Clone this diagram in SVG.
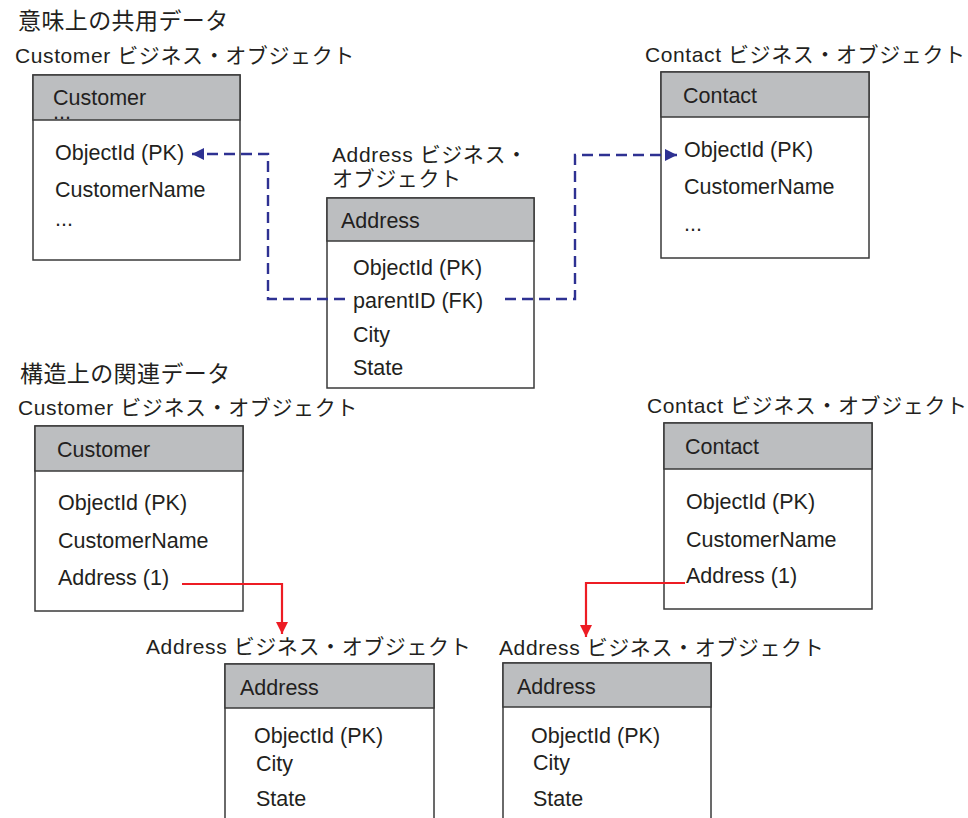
<svg xmlns="http://www.w3.org/2000/svg" width="968" height="818" viewBox="0 0 968 818">
<style>
text{font-family:"Liberation Sans","Noto Sans CJK JP",Arial,sans-serif;fill:#231f20}
.t{font-size:21.5px}
.h{font-size:23px;letter-spacing:0.4px}
.lb{font-size:21px;letter-spacing:0.6px}
.box{fill:#fff;stroke:#3a3a3a;stroke-width:1.5}
.hd{fill:#bcbec0;stroke:#3a3a3a;stroke-width:1.5}
.blue{fill:none;stroke:#2e3192;stroke-width:2.4;stroke-dasharray:11 6}
.red{fill:none;stroke:#ed1c24;stroke-width:2.2}
</style>
<defs>
<marker id="ab" viewBox="0 0 10 10" refX="10" refY="5" markerWidth="14" markerHeight="12" markerUnits="userSpaceOnUse" orient="auto"><path d="M0 0L10 5L0 10z" fill="#2e3192"/></marker>
<marker id="ar" viewBox="0 0 10 10" refX="10" refY="5" markerWidth="14" markerHeight="12" markerUnits="userSpaceOnUse" orient="auto"><path d="M0 0L10 5L0 10z" fill="#ed1c24"/></marker>
</defs>
<text class="h" x="18" y="29">意味上の共用データ</text>
<text class="h" x="20" y="382">構造上の関連データ</text>

<g id="cust1">
<text class="lb" x="15" y="63">Customer ビジネス・オブジェクト</text>
<rect class="box" x="33" y="75" width="207" height="185"/>
<rect class="hd" x="33" y="75" width="207" height="45"/>
<text class="t" x="53" y="105">Customer</text>
<text class="t" x="53" y="119">...</text>
<text class="t" x="55" y="160">ObjectId (PK)</text>
<text class="t" x="55" y="197">CustomerName</text>
<text class="t" x="55" y="226">...</text>
</g>

<g id="addr1">
<text class="lb" x="332" y="162">Address ビジネス・</text>
<text class="lb" x="332" y="186">オブジェクト</text>
<rect class="box" x="327" y="198" width="207" height="190"/>
<rect class="hd" x="327" y="198" width="207" height="43"/>
<text class="t" x="341" y="228">Address</text>
<text class="t" x="353" y="275">ObjectId (PK)</text>
<text class="t" x="353" y="308">parentID (FK)</text>
<text class="t" x="353" y="342">City</text>
<text class="t" x="353" y="375">State</text>
</g>

<g id="contact1">
<text class="lb" x="645" y="62">Contact ビジネス・オブジェクト</text>
<rect class="box" x="661" y="72" width="208" height="186"/>
<rect class="hd" x="661" y="72" width="208" height="45"/>
<text class="t" x="683" y="103">Contact</text>
<text class="t" x="684" y="157">ObjectId (PK)</text>
<text class="t" x="684" y="194">CustomerName</text>
<text class="t" x="684" y="231">...</text>
</g>

<g id="cust2">
<text class="lb" x="18" y="415">Customer ビジネス・オブジェクト</text>
<rect class="box" x="35" y="426" width="208" height="185"/>
<rect class="hd" x="35" y="426" width="208" height="45"/>
<text class="t" x="57" y="457">Customer</text>
<text class="t" x="58" y="510">ObjectId (PK)</text>
<text class="t" x="58" y="548">CustomerName</text>
<text class="t" x="58" y="585">Address (1)</text>
</g>

<g id="contact2">
<text class="lb" x="647" y="413">Contact ビジネス・オブジェクト</text>
<rect class="box" x="664" y="423" width="208" height="186"/>
<rect class="hd" x="664" y="423" width="208" height="46"/>
<text class="t" x="685" y="454">Contact</text>
<text class="t" x="686" y="509">ObjectId (PK)</text>
<text class="t" x="686" y="547">CustomerName</text>
<text class="t" x="686" y="583">Address (1)</text>
</g>

<g id="addr2">
<text class="lb" x="146" y="654">Address ビジネス・オブジェクト</text>
<rect class="box" x="225" y="664" width="209" height="170"/>
<rect class="hd" x="225" y="664" width="209" height="44"/>
<text class="t" x="240" y="695">Address</text>
<text class="t" x="254" y="743">ObjectId (PK)</text>
<text class="t" x="256" y="771">City</text>
<text class="t" x="256" y="806">State</text>
</g>

<g id="addr3">
<text class="lb" x="499" y="655">Address ビジネス・オブジェクト</text>
<rect class="box" x="503" y="663" width="208" height="170"/>
<rect class="hd" x="503" y="663" width="208" height="44"/>
<text class="t" x="517" y="694">Address</text>
<text class="t" x="531" y="743">ObjectId (PK)</text>
<text class="t" x="533" y="770">City</text>
<text class="t" x="533" y="806">State</text>
</g>

<g id="connectors">
<path class="blue" d="M345 299H268V154H192" marker-end="url(#ab)"/>
<path class="blue" d="M505 299H575V155H677" marker-end="url(#ab)"/>
<path class="red" d="M182 584H282V634" marker-end="url(#ar)"/>
<path class="red" d="M685 583H586V637" marker-end="url(#ar)"/>
</g>
</svg>
